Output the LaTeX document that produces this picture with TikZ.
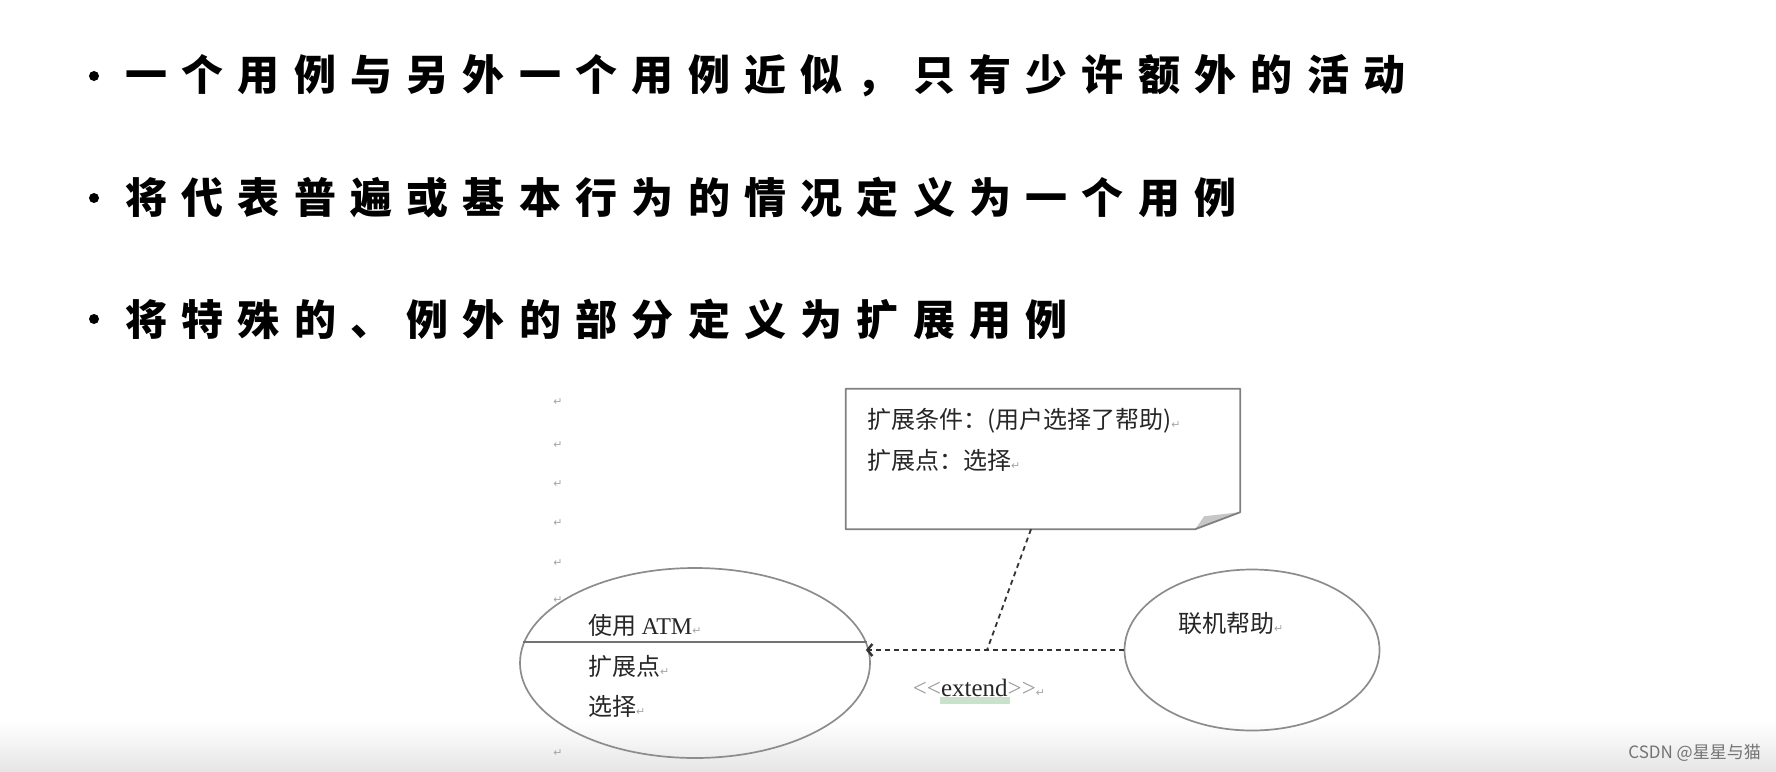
\documentclass[tikz,border=0pt]{standalone}
\usepackage{fontspec}
\setmainfont{Liberation Serif}
\newfontfamily\cjk{Noto Sans CJK SC}
\newfontfamily\cjkpoint[LetterSpace=34]{Noto Sans CJK SC}
\newfontfamily\umlfont{Liberation Serif}
\newfontfamily\symfont{DejaVu Sans}
\usetikzlibrary{shapes.geometric,arrows.meta}
\definecolor{squiggle}{RGB}{202,226,202}
\newcommand{\retmark}{{\symfont\fontsize{11}{11}\selectfont\color{black!35}↵}}

\begin{document}
\begin{tikzpicture}[x=1pt,y=-1pt,
    dot/.style={circle,fill,inner sep=0,minimum size=10pt},
    point/.style={anchor=west,inner sep=0,font=\cjkpoint\bfseries\fontsize{42}{42}\selectfont},
    usecase/.style={draw=black!45,line width=1.7pt,ellipse,inner sep=0},
    casetext/.style={anchor=west,inner sep=0,font=\cjk\fontsize{24}{41}\selectfont,text=black!85},
    depend/.style={draw=black!80,line width=1.8pt,dash pattern=on 5pt off 4pt}]
    \useasboundingbox (0,0) rectangle (1776,771);
    \shade[top color=white,bottom color=black!10] (0,722) rectangle (1776,771);

    \foreach \y/\txt [count=\i] in {76/一个用例与另外一个用例近似，只有少许额外的活动,
        198/将代表普遍或基本行为的情况定义为一个用例,
        319/将特殊的、例外的部分定义为扩展用例}{
        \node[dot] (dot\i) at (94,\y) {};
        \node[point] (point\i) at (125,\y) {\txt};
    }
    \foreach \y [count=\i] in {402,445,484,523,563,600,753}
        \node[inner sep=0] (ret\i) at (558,\y) {\retmark};

    \node[minimum width=394pt,minimum height=140pt,inner sep=0] (cond) at (1043,459) {};
    \fill[black!22] ([yshift=17pt]cond.south east) -- ([xshift=-45pt]cond.south east)
        -- ([xshift=-36pt,yshift=13pt]cond.south east) -- cycle;
    \draw[draw=black!50,line width=1.8pt,line join=round] (cond.north west) -- (cond.north east)
        -- ([yshift=17pt]cond.south east) -- ([xshift=-45pt]cond.south east) -- (cond.south west) -- cycle;
    \node[casetext,align=left] (condtext) at (867,440) {扩展条件：(用户选择了帮助)\retmark\\扩展点：选择\retmark};

    \node[usecase,minimum width=350pt,minimum height=190pt] (atm) at (695,663) {};
    \node[usecase,minimum width=255pt,minimum height=161pt] (help) at (1252,650) {};
    \draw[black!55,line width=2pt] (atm.173) -- (atm.7);
    \node[casetext] (atmname) at (588,625) {使用 {\rmfamily ATM}\retmark};
    \node[casetext] (extpt) at (588,666) {扩展点\retmark};
    \node[casetext] (extchoice) at (588,706) {选择\retmark};
    \node[casetext] (helpname) at (1178,623) {联机帮助\retmark};

    \coordinate (ext) at (987,650);
    \draw[depend,-{Straight Barb[length=5pt,width=12pt,line width=2.4pt]},shorten >=-5pt] (help.west) -- (atm.east |- help.west);
    \draw[depend] ([xshift=-12pt]cond.south) -- (ext);
    \fill[squiggle] (940,697) rectangle (1010,704);
    \node[inner sep=0,font=\umlfont\fontsize{25}{25}\selectfont,text=black!40] (extlbl) at (979,688) {<<{\color{black!85}extend}>>\retmark};

    \node[anchor=east,inner sep=0,font=\cjk\fontsize{17}{17}\selectfont,text=black!55] (credit) at (1761,753) {CSDN @星星与猫};
\end{tikzpicture}
\end{document}
